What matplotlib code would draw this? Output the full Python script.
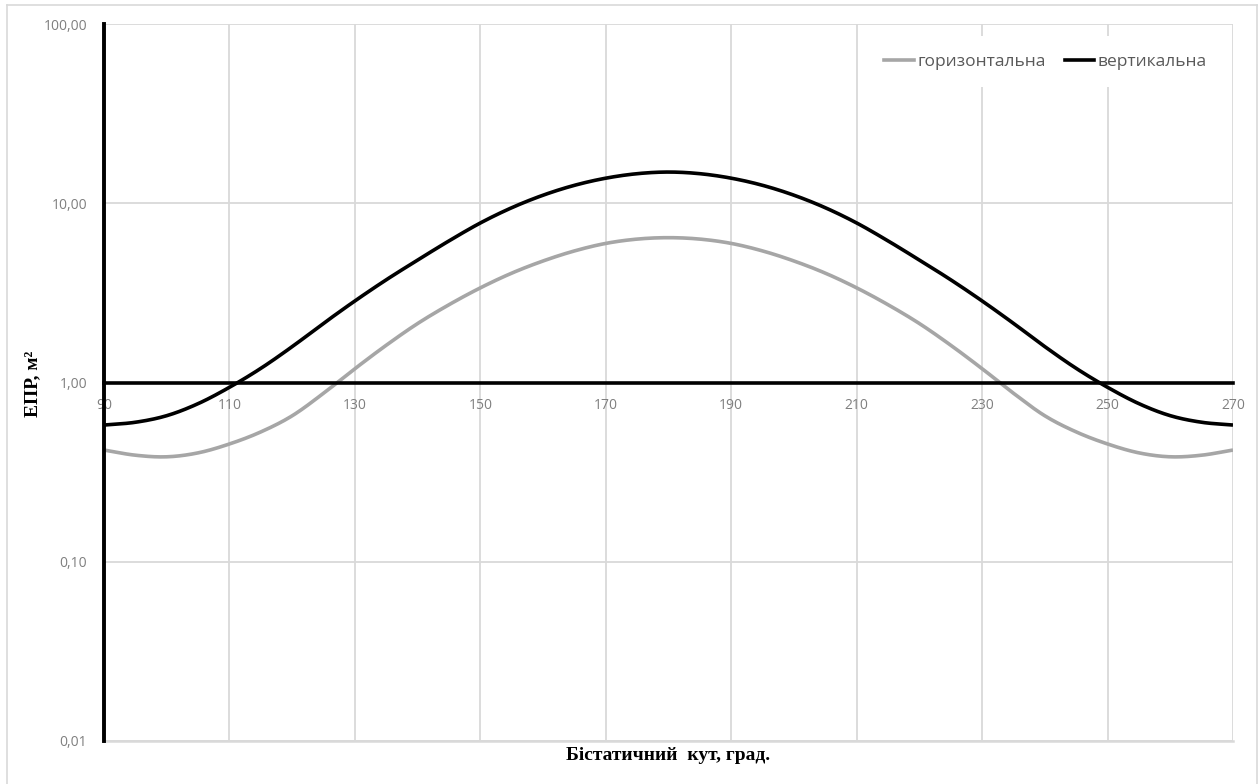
import matplotlib
matplotlib.use("Agg")
import numpy as np
import matplotlib.pyplot as plt
from matplotlib.lines import Line2D

# bistatic angle, degrees
angles = [90, 95, 100, 105, 110, 115, 120, 125, 130, 135, 140, 145, 150, 155,
          160, 165, 170, 175, 180, 185, 190, 195, 200, 205, 210, 215, 220,
          225, 230, 235, 240, 245, 250, 255, 260, 265, 270]

# RCS, m^2
horiz = [0.42, 0.393, 0.385, 0.405, 0.454, 0.53, 0.652, 0.871, 1.194, 1.614,
         2.133, 2.716, 3.373, 4.074, 4.764, 5.42, 5.97, 6.31, 6.427, 6.31,
         5.97, 5.42, 4.764, 4.074, 3.373, 2.716, 2.133, 1.614, 1.194, 0.871,
         0.652, 0.53, 0.454, 0.405, 0.385, 0.393, 0.42]
vert = [0.579, 0.60, 0.653, 0.762, 0.94, 1.199, 1.585, 2.138, 2.851, 3.741,
        4.819, 6.166, 7.762, 9.441, 11.09, 12.59, 13.8, 14.62, 14.93, 14.62,
        13.8, 12.59, 11.09, 9.441, 7.762, 6.166, 4.819, 3.741, 2.851, 2.138,
        1.585, 1.199, 0.94, 0.762, 0.653, 0.60, 0.579]

xticks = [90, 110, 130, 150, 170, 190, 210, 230, 250, 270]
yticks = [0.01, 0.1, 1, 10, 100]
ytick_labels = ["0,01", "0,10", "1,00", "10,00", "100,00"]
series_names = ["горизонтальна", "вертикальна"]

grid_col = "#d9d9d9"
label_col = "#7f7f7f"
tick_font = "Open Sans"


def smooth(x, y, n=20):
    # catmull-rom through the points (like excel "smoothed line"), in log space
    x = np.asarray(x, float)
    y = np.log10(np.asarray(y, float))
    px = np.concatenate([[2 * x[0] - x[1]], x, [2 * x[-1] - x[-2]]])
    py = np.concatenate([[2 * y[0] - y[1]], y, [2 * y[-1] - y[-2]]])
    xs, ys = [], []
    t = np.linspace(0, 1, n, endpoint=False)
    for i in range(1, len(px) - 2):
        for p, out in ((px, xs), (py, ys)):
            p0, p1, p2, p3 = p[i - 1], p[i], p[i + 1], p[i + 2]
            out.append(0.5 * (2 * p1 + (-p0 + p2) * t
                              + (2 * p0 - 5 * p1 + 4 * p2 - p3) * t ** 2
                              + (-p0 + 3 * p1 - 3 * p2 + p3) * t ** 3))
    xs.append([x[-1]])
    ys.append([y[-1]])
    return np.concatenate(xs), 10 ** np.concatenate(ys)


fig = plt.figure(figsize=(12.58, 7.84), dpi=100)
ax = fig.add_axes([104 / 1258, 1 - 741 / 784, (1233 - 104) / 1258, (741 - 24) / 784])

ax.set_yscale("log")
ax.set_xlim(90, 270)
ax.set_ylim(0.01, 100)

hx, hy = smooth(angles, horiz)
vx, vy = smooth(angles, vert)
ax.plot(hx, hy, color="#a6a6a6", lw=2.6, zorder=3, solid_capstyle="butt")
ax.plot(vx, vy, color="black", lw=2.6, zorder=3, solid_capstyle="butt")

# grid
ax.set_xticks(xticks)
ax.set_yticks(yticks)
ax.set_yticklabels(ytick_labels)
ax.minorticks_off()
ax.grid(True, color=grid_col, lw=1.3, zorder=0)
ax.axhline(0.01, color=grid_col, lw=1.8, zorder=1, clip_on=False)

for s in ["top", "right"]:
    ax.spines[s].set_visible(False)
ax.spines["bottom"].set_position(("data", 1))
ax.spines["bottom"].set_color("black")
ax.spines["bottom"].set_linewidth(2.6)
ax.spines["bottom"].set_zorder(4)
ax.spines["left"].set_color("black")
ax.spines["left"].set_linewidth(2.8)
ax.spines["left"].set_zorder(4)

ax.tick_params(length=0)
ax.tick_params(axis="x", pad=11, labelsize=10, labelcolor=label_col)
ax.tick_params(axis="y", pad=12, labelsize=10, labelcolor=label_col)
for t in ax.get_xticklabels() + ax.get_yticklabels():
    t.set_fontfamily(tick_font)

fig.text(668 / 1258, 1 - 756 / 784, "Бістатичний  кут, град.",
         ha="center", va="center", fontsize=14, fontweight="bold",
         family="Liberation Serif")
fig.text(33 / 1258, 1 - 384 / 784, "ЕПР, м²",
         ha="center", va="center", rotation=90, fontsize=14,
         fontweight="bold", family="Liberation Serif")

handles = [Line2D([], [], color="#a6a6a6", lw=2.6),
           Line2D([], [], color="black", lw=2.6)]
leg = ax.legend(handles, series_names, loc="upper right", ncol=2,
                bbox_to_anchor=(1.0, 0.995), frameon=True, fancybox=False,
                edgecolor="none", facecolor="white", framealpha=1,
                handlelength=1.7, handletextpad=0.2, columnspacing=1.1,
                borderpad=1.0,
                prop={"family": tick_font, "size": 12.5})
for t in leg.get_texts():
    t.set_color("#595959")
leg.set_zorder(5)

# chart area border
b = "#d9d9d9"
fig.add_artist(Line2D([7 / 1258, 7 / 1258], [0, 1 - 5 / 784], color=b, lw=1.2))
fig.add_artist(Line2D([7 / 1258, 1257 / 1258], [1 - 5 / 784, 1 - 5 / 784], color=b, lw=1.2))
fig.add_artist(Line2D([1256.5 / 1258, 1256.5 / 1258], [0, 1 - 5 / 784], color=b, lw=1.2))

fig.savefig("out.png", dpi=100, facecolor="white")
